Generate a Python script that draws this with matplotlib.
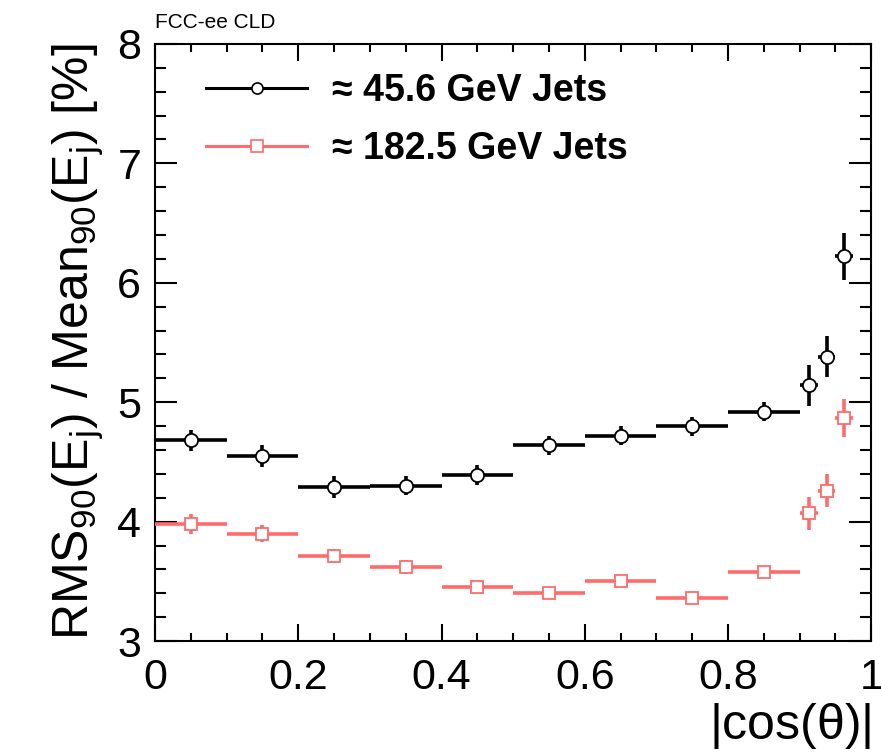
import matplotlib
matplotlib.use("Agg")
import matplotlib.pyplot as plt
from matplotlib.lines import Line2D
from matplotlib.ticker import MultipleLocator

plt.rcParams["font.family"] = ["Liberation Sans", "DejaVu Sans"]
plt.rcParams["mathtext.fontset"] = "custom"
plt.rcParams["mathtext.rm"] = "Liberation Sans"
plt.rcParams["mathtext.it"] = "Liberation Sans"
plt.rcParams["mathtext.default"] = "regular"

# bin centres and half widths in |cos(theta)|
bin_centers = [0.05, 0.15, 0.25, 0.35, 0.45, 0.55, 0.65, 0.75, 0.85, 0.9125, 0.9375, 0.9625]
bin_halfwidths = [0.05, 0.05, 0.05, 0.05, 0.05, 0.05, 0.05, 0.05, 0.05, 0.0125, 0.0125, 0.0125]

# 45.6 GeV jets
res_45 = [4.68, 4.55, 4.29, 4.30, 4.39, 4.64, 4.72, 4.80, 4.92, 5.14, 5.38, 6.22]
err_45 = [0.09, 0.09, 0.09, 0.08, 0.08, 0.08, 0.08, 0.08, 0.08, 0.17, 0.17, 0.20]

# 182.5 GeV jets
res_182 = [3.98, 3.90, 3.71, 3.62, 3.45, 3.40, 3.50, 3.36, 3.58, 4.07, 4.26, 4.87]
err_182 = [0.08, 0.07, 0.06, 0.06, 0.05, 0.05, 0.05, 0.05, 0.05, 0.14, 0.14, 0.16]

red = "#ff6b6b"

fig = plt.figure(figsize=(8.81, 7.56), dpi=100)
ax = fig.add_axes([0.176, 0.152, 0.813, 0.790])

ax.errorbar(bin_centers, res_45, xerr=bin_halfwidths, yerr=err_45, fmt="o",
            color="black", mfc="white", mec="black", ms=9.5, mew=1.3,
            elinewidth=2.6, capsize=0, zorder=3)
ax.errorbar(bin_centers, res_182, xerr=bin_halfwidths, yerr=err_182, fmt="s",
            color=red, mfc="white", mec=red, ms=9, mew=1.3,
            elinewidth=2.6, capsize=0, zorder=3)

ax.set_xlim(0, 1)
ax.set_ylim(3, 8)
ax.xaxis.set_major_locator(MultipleLocator(0.2))
ax.xaxis.set_minor_locator(MultipleLocator(0.05))
ax.yaxis.set_major_locator(MultipleLocator(1))
ax.yaxis.set_minor_locator(MultipleLocator(0.2))
ax.xaxis.set_major_formatter(plt.FuncFormatter(lambda v, p: "%g" % v))

ax.tick_params(which="both", direction="in", top=True, right=True, width=1.5,
               labelsize=31)
ax.tick_params(axis="y", which="major", length=16, pad=10)
ax.tick_params(axis="y", which="minor", length=8)
ax.tick_params(axis="x", which="major", length=12, pad=12)
ax.tick_params(axis="x", which="minor", length=6)
for s in ax.spines.values():
    s.set_linewidth(1.5)

ax.set_xlabel(r"|cos($\theta$)|", fontsize=36, loc="right", labelpad=2)
ax.set_ylabel(r"RMS$_{90}$(E$_{j}$) / Mean$_{90}$(E$_{j}$) [%]", fontsize=36,
              loc="top", labelpad=8)

handles = [
    Line2D([], [], color="black", marker="o", mfc="white", mec="black", ms=8, lw=2.2, mew=1.2),
    Line2D([], [], color=red, marker="s", mfc="white", mec=red, ms=8, lw=2.2, mew=1.2),
]
labels = ["≈ 45.6 GeV Jets", "≈ 182.5 GeV Jets"]
leg = ax.legend(handles, labels, loc="upper left", bbox_to_anchor=(0.024, 1.008),
                frameon=False, handlelength=2.7, handletextpad=0.65,
                labelspacing=0.6, prop={"weight": "bold", "size": 27})

fig.text(155 / 881, 1 - 28 / 756, "FCC-ee CLD", fontsize=15, ha="left", va="baseline")

fig.savefig("out.png", dpi=100)
